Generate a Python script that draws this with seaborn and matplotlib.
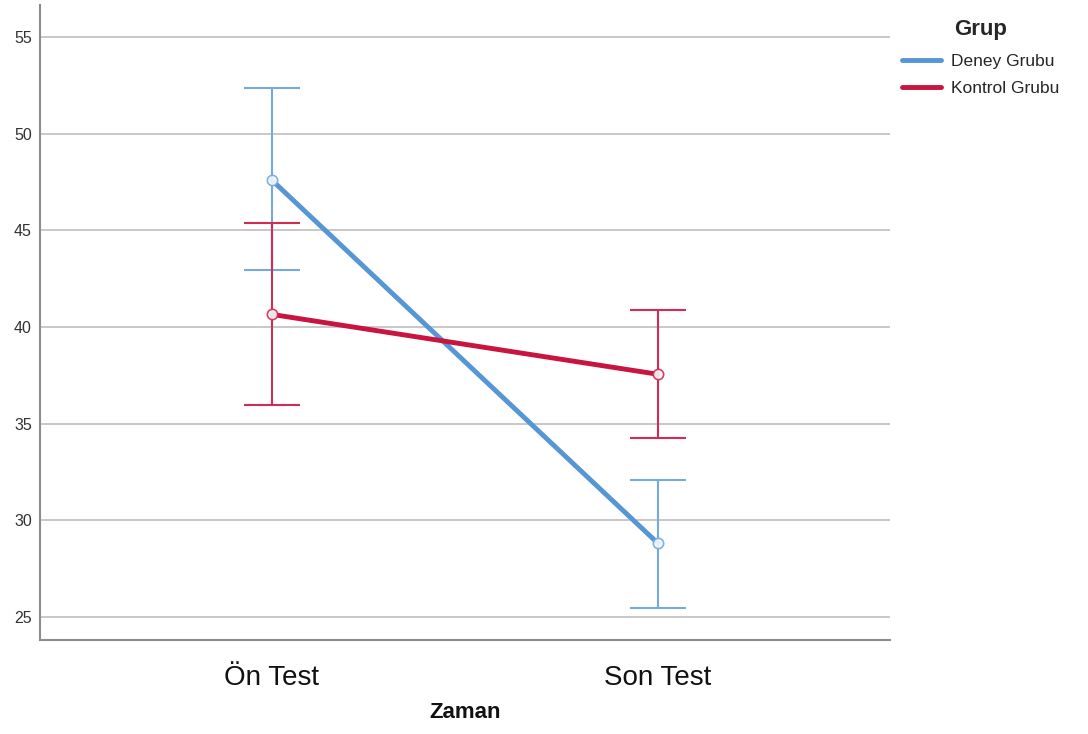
import matplotlib
matplotlib.use("Agg")
import matplotlib.pyplot as plt
from matplotlib.lines import Line2D
import seaborn as sns
import pandas as pd
import numpy as np

# Data
zaman = ["Ön Test", "Son Test"]
gruplar = ["Deney Grubu", "Kontrol Grubu"]
deney_mean = [47.6, 28.8]
deney_low = [42.95, 25.45]
deney_high = [52.35, 32.1]
kontrol_mean = [40.65, 37.55]
kontrol_low = [35.95, 34.25]
kontrol_high = [45.4, 40.9]
yticks = [25, 30, 35, 40, 45, 50, 55]

sns.set_theme(style="white")
plt.rcParams['font.family'] = ['Liberation Sans', 'DejaVu Sans']

df = pd.DataFrame({
    "Zaman": zaman * 2,
    "Grup": [gruplar[0]] * 2 + [gruplar[1]] * 2,
    "Ortalama": deney_mean + kontrol_mean,
    "Alt": deney_low + kontrol_low,
    "Ust": deney_high + kontrol_high,
})

line_colors = {"Deney Grubu": "#5596d6", "Kontrol Grubu": "#c8143f"}
err_colors = {"Deney Grubu": "#74a9e3", "Kontrol Grubu": "#d02c55"}

fig = plt.figure(figsize=(10.88, 7.34), dpi=100)
ax = fig.add_axes([0.0368, 0.128, 0.781, 0.865])

# error bars
for g in gruplar:
    sub = df[df["Grup"] == g]
    xs = np.arange(len(zaman))
    ax.vlines(xs, sub["Alt"], sub["Ust"], color=err_colors[g], lw=1.5, zorder=3)
    for x, lo, hi in zip(xs, sub["Alt"], sub["Ust"]):
        ax.hlines([lo, hi], x - 0.072, x + 0.072, color=err_colors[g], lw=1.5, zorder=3)

sns.pointplot(data=df, x="Zaman", y="Ortalama", hue="Grup", order=zaman,
              hue_order=gruplar, palette=line_colors, errorbar=None,
              markers="o", linewidth=3.5, markersize=0, ax=ax, legend=False, zorder=4)

# hollow markers
for g in gruplar:
    sub = df[df["Grup"] == g]
    ax.scatter(np.arange(len(zaman)), sub["Ortalama"], s=55, facecolors="#f7f9fc",
               edgecolors=err_colors[g], linewidths=1.2, zorder=5, alpha=0.9)

ax.set_xlim(-0.6, 1.6)
ax.set_ylim(23.8, 56.65)
ax.set_yticks(yticks)
ax.yaxis.grid(True, color="#c4c4c4", lw=1.3)
ax.set_axisbelow(True)
for s in ["top", "right"]:
    ax.spines[s].set_visible(False)
for s in ["left", "bottom"]:
    ax.spines[s].set_color("#8c8c8c")
    ax.spines[s].set_linewidth(1.5)
ax.tick_params(axis="y", labelsize=11.5, colors="#333333", length=0, pad=6)
ax.tick_params(axis="x", labelsize=20, colors="#111111", length=0, pad=18)
ax.set_xlabel("Zaman", fontsize=16, fontweight="bold", labelpad=8, color="#111111")
ax.set_ylabel("")

handles = [Line2D([0], [0], color=line_colors[g], lw=3.5) for g in gruplar]
leg = fig.legend(handles, gruplar, title="Grup", loc="upper left",
                 bbox_to_anchor=(0.815, 0.995), frameon=False, fontsize=12.5,
                 title_fontproperties={"weight": "bold", "size": 16},
                 handlelength=2.2, handletextpad=0.6, labelspacing=0.65)
leg._legend_box.sep = 10

fig.savefig("out.png", dpi=100)
